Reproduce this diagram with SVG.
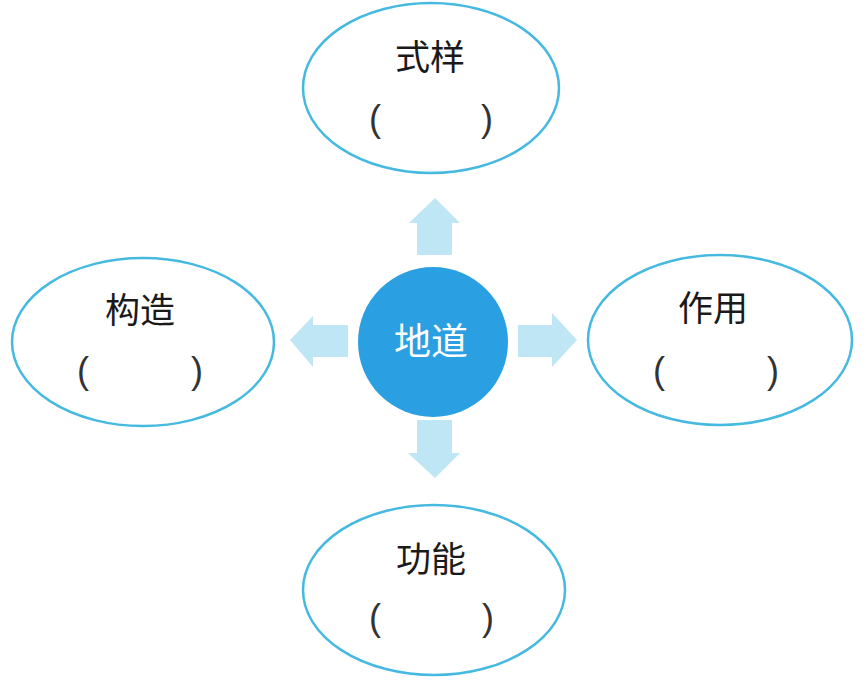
<svg xmlns="http://www.w3.org/2000/svg" width="867" height="684" viewBox="0 0 867 684">
<style>
.oval{fill:#fff;stroke:#45b9e0;stroke-width:2.5}
.lbl{font-family:"Noto Sans CJK SC","Noto Sans CJK TC",sans-serif;font-size:35px;fill:#1a1a1a;text-anchor:middle}
.par{font-family:"Liberation Sans","DejaVu Sans",sans-serif;font-size:36px;fill:#333;text-anchor:middle}
.arr{fill:#bfe6f5}
.hub{fill:#2aa0e2}
.hubt{font-family:"Noto Sans CJK SC","Noto Sans CJK TC",sans-serif;font-size:37px;fill:#fff;text-anchor:middle}
</style>
<rect width="867" height="684" fill="#fff"/>
<g id="connectors">
<polygon class="arr" points="417,255 417,223 409,223 435,198 460,223 452,223 452,255"/>
<polygon class="arr" points="348,325 313,325 313,316 290,340 313,367 313,357 348,357"/>
<polygon class="arr" points="518,325 552,325 552,313 577,340 552,367 552,357 518,357"/>
<polygon class="arr" points="417,420 417,453 408,453 435,478 460,453 452,453 452,420"/>
</g>
<g id="node-center">
<circle class="hub" cx="433" cy="342" r="75"/>
<text class="hubt" x="431" y="355">地道</text>
</g>
<g id="node-top">
<ellipse class="oval" cx="431" cy="88" rx="128" ry="85"/>
<text class="lbl" x="430" y="70">式样</text>
<text class="par"><tspan x="375" y="131">(</tspan><tspan x="487" y="131">)</tspan></text>
</g>
<g id="node-left">
<ellipse class="oval" cx="143" cy="342" rx="131" ry="84"/>
<text class="lbl" x="140" y="323">构造</text>
<text class="par"><tspan x="83" y="383">(</tspan><tspan x="197" y="383">)</tspan></text>
</g>
<g id="node-right">
<ellipse class="oval" cx="720" cy="340" rx="132" ry="85"/>
<text class="lbl" x="713" y="321">作用</text>
<text class="par"><tspan x="659" y="383">(</tspan><tspan x="773" y="383">)</tspan></text>
</g>
<g id="node-bottom">
<ellipse class="oval" cx="434" cy="590" rx="131" ry="85"/>
<text class="lbl" x="431" y="572">功能</text>
<text class="par"><tspan x="375" y="630">(</tspan><tspan x="488" y="630">)</tspan></text>
</g>
</svg>
